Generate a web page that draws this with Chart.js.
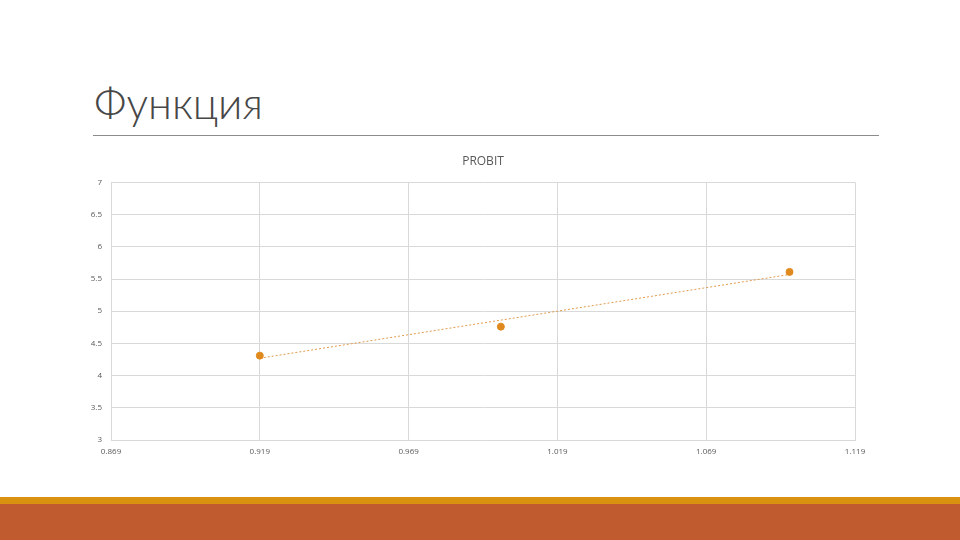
<!DOCTYPE html>
<html>
<head>
<meta charset="utf-8">
<script src="https://cdn.jsdelivr.net/npm/chart.js@4.4.0/dist/chart.umd.min.js"></script>
<style>
  body { margin: 0; width: 960px; height: 540px; background: #fff; overflow: hidden; position: relative; font-family: "Open Sans", sans-serif; }
  #titulo { position: absolute; left: 94px; top: 77px; font-size: 43px; color: #474747; font-weight: 300; font-family: "Lato", "Open Sans", sans-serif; }
  #linha { position: absolute; left: 93px; top: 135px; width: 786px; height: 1px; background: #8c8c8c; }
  #faixa1 { position: absolute; left: 0; top: 497px; width: 960px; height: 7px; background: #d9920f; }
  #faixa2 { position: absolute; left: 0; top: 504px; width: 960px; height: 36px; background: #bf5b2e; }
  #caixa { position: absolute; left: 60px; top: 145px; width: 830px; height: 320px; }
</style>
</head>
<body>
<div id="titulo">Функция</div>
<div id="linha"></div>
<div id="caixa"><canvas id="grafico"></canvas></div>
<div id="faixa1"></div>
<div id="faixa2"></div>
<script>
// valores
const valoresX = [0.919, 1.000, 1.097];
const valoresY = [4.31, 4.76, 5.61];
// linha de tendência (extremos)
const tendenciaX = [0.919, 1.097];
const tendenciaY = [4.27, 5.57];
const ticksX = [0.869, 0.919, 0.969, 1.019, 1.069, 1.119];

const pontos = valoresX.map((x, i) => ({ x: x, y: valoresY[i] }));
const tendencia = tendenciaX.map((x, i) => ({ x: x, y: tendenciaY[i] }));

new Chart(document.getElementById('grafico'), {
  type: 'scatter',
  data: {
    datasets: [
      {
        label: 'PROBIT',
        data: pontos,
        backgroundColor: '#e08a1e',
        borderColor: '#e08a1e',
        pointRadius: 3.5,
        order: 1
      },
      {
        label: 'Tendência',
        data: tendencia,
        showLine: true,
        borderColor: '#e39a4c',
        borderWidth: 1,
        borderDash: [2, 2],
        pointRadius: 0,
        order: 2
      }
    ]
  },
  options: {
    responsive: true,
    maintainAspectRatio: false,
    animation: false,
    layout: { padding: { left: 0, right: 35, top: 0, bottom: 0 } },
    plugins: {
      legend: { display: false },
      tooltip: { enabled: false },
      title: {
        display: true,
        fullSize: false,
        text: 'PROBIT',
        color: '#595959',
        font: { size: 12, family: 'Open Sans', weight: 'normal' },
        padding: { top: 9, bottom: 14 }
      }
    },
    scales: {
      x: {
        type: 'linear',
        min: 0.869,
        max: 1.119,
        afterBuildTicks: function(escala) {
          escala.ticks = ticksX.map(v => ({ value: v }));
        },
        afterFit: function(escala) { escala.height = 25; },
        grid: { color: '#d9d9d9', drawTicks: false },
        border: { color: '#d9d9d9' },
        ticks: {
          color: '#595959',
          font: { size: 8, family: 'Open Sans' },
          padding: 7,
          maxRotation: 0,
          callback: v => v.toFixed(3)
        }
      },
      y: {
        min: 3,
        max: 7,
        afterFit: function(escala) { escala.width = 51; },
        grid: { color: '#d9d9d9', drawTicks: false },
        border: { color: '#d9d9d9' },
        ticks: {
          stepSize: 0.5,
          color: '#595959',
          font: { size: 8, family: 'Open Sans' },
          padding: 9,
          callback: v => String(v)
        }
      }
    }
  }
});
</script>
</body>
</html>
